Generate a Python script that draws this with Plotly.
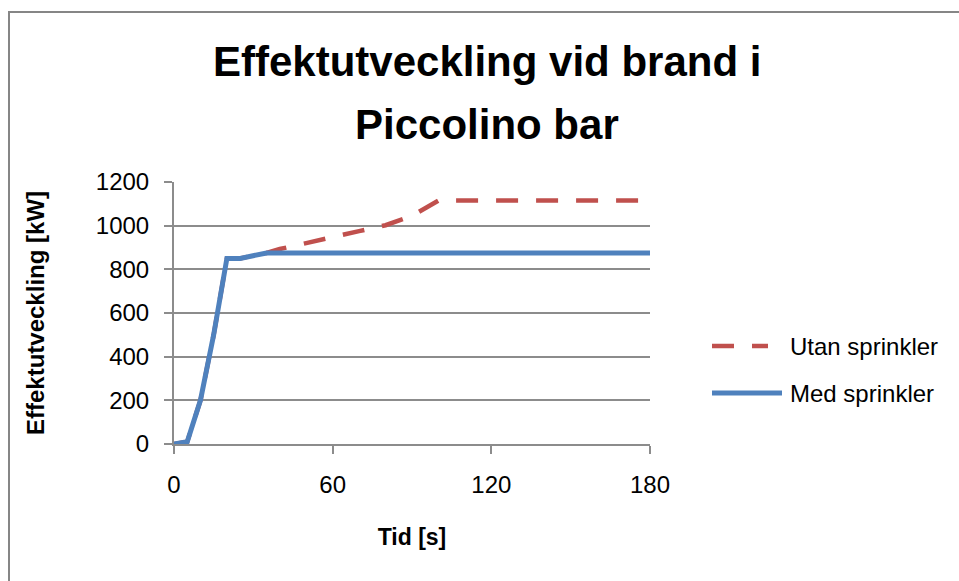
import plotly.graph_objects as go

# Heat release rate over time for a fire in Piccolino bar
time_utan = [0, 5, 10, 15, 20, 25, 35, 40, 50, 60, 70, 80, 90, 100, 180]
hrr_utan = [0, 10, 200, 500, 850, 850, 875, 893, 920, 945, 975, 1002, 1045, 1115, 1115]

time_med = [0, 5, 10, 15, 20, 25, 35, 180]
hrr_med = [0, 10, 200, 500, 850, 850, 875, 875]

x_ticks = [0, 60, 120, 180]
y_ticks = [0, 200, 400, 600, 800, 1000, 1200]

title_lines = ["Effektutveckling vid brand i", "Piccolino bar"]
series_names = ["Utan sprinkler", "Med sprinkler"]

RED = "#C0504D"
BLUE = "#4F81BD"
GRID = "#8c8c8c"
W, H = 959, 581
L, R, T, B = 174, 650, 182, 444  # plot area in pixels
SANS = "Liberation Sans, Arial, sans-serif"


def px(x):
    return (x - L) / (R - L)


def py(y):
    return (B - y) / (B - T)


fig = go.Figure()
fig.add_trace(go.Scatter(x=time_utan, y=hrr_utan, mode="lines", name=series_names[0],
                         line=dict(color=RED, width=4.5, dash="22px,18px"),
                         showlegend=False))
fig.add_trace(go.Scatter(x=time_med, y=hrr_med, mode="lines", name=series_names[1],
                         line=dict(color=BLUE, width=5), showlegend=False))

tick_font = dict(family=SANS, size=24, color="#000")

fig.update_layout(
    width=W, height=H,
    margin=dict(l=L, r=W - R, t=T, b=H - B, pad=0),
    paper_bgcolor="white", plot_bgcolor="white",
    xaxis=dict(range=[0, 180], tickvals=x_ticks, showgrid=False, zeroline=False,
               showline=True, linecolor=GRID, linewidth=2,
               ticks="outside", ticklen=8, tickwidth=2, tickcolor=GRID,
               tickfont=tick_font, ticklabelstandoff=10,
               title=dict(text="<b>Tid [s]</b>", font=dict(family=SANS, size=23, color="#000"),
                          standoff=32)),
    yaxis=dict(range=[0, 1200], tickvals=y_ticks, showgrid=True, gridcolor=GRID, gridwidth=2,
               zeroline=False, showline=True, linecolor=GRID, linewidth=2,
               ticks="outside", ticklen=8, tickwidth=2, tickcolor=GRID,
               tickfont=tick_font, ticklabelstandoff=10,
               title=dict(text="<b>Effektutveckling [kW]</b>", font=dict(family=SANS, size=24, color="#000"),
                          standoff=44)),
)

# Two-line chart title
for text, yc in zip(title_lines, [62, 124]):
    fig.add_annotation(text="<b>" + text + "</b>", xref="paper", yref="paper",
                       x=px(487), y=py(yc), xanchor="center", yanchor="middle",
                       showarrow=False, font=dict(family=SANS, size=42, color="#000"))

# Legend: sample lines and labels
legend_rows = [(346, RED, "22px,18px", 712, 768), (393, BLUE, "solid", 712, 782)]
for (yrow, color, dash, x0, x1), name in zip(legend_rows, series_names):
    fig.add_shape(type="line", xref="paper", yref="paper",
                  x0=px(x0), x1=px(x1), y0=py(yrow), y1=py(yrow),
                  line=dict(color=color, width=4.5 if dash != "solid" else 5, dash=dash))
    fig.add_annotation(text=name, xref="paper", yref="paper", x=px(788), y=py(yrow),
                       xanchor="left", yanchor="middle", showarrow=False,
                       font=dict(family=SANS, size=24, color="#000"))

# Chart-area frame
fig.add_shape(type="rect", xref="paper", yref="paper", layer="below",
              x0=px(9), x1=px(975), y0=py(600), y1=py(12),
              line=dict(color="#868686", width=2), fillcolor="rgba(0,0,0,0)")

fig.write_html("out.html")
